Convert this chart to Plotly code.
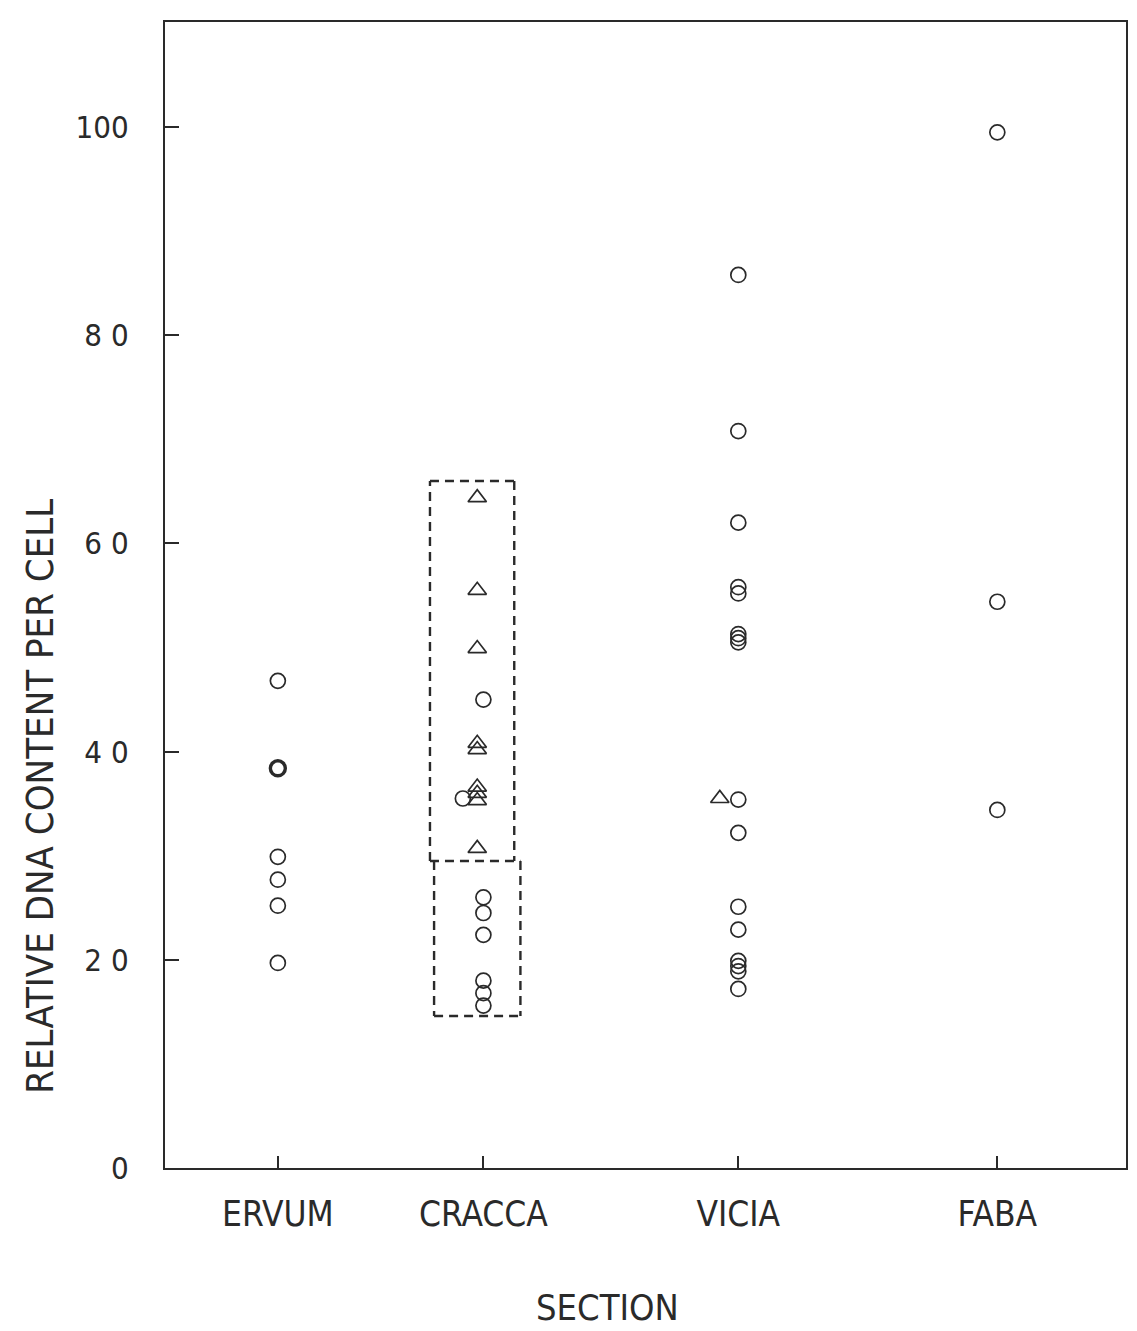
import plotly.graph_objects as go

# ---- data ----
sections = ["ERVUM", "CRACCA", "VICIA", "FABA"]
section_pos = [1.0, 2.0, 3.24, 4.5]

y_ticks = [0, 20, 40, 60, 80, 100]

ervum_circles = [46.8, 38.4, 29.9, 27.7, 25.2, 19.7]
ervum_bold = [False, True, False, False, False, False]

cracca_triangles = [64.4, 55.5, 49.9, 40.8, 40.2, 36.6, 36.0, 35.3, 30.7]
cracca_circles = [45.0, 26.0, 24.5, 22.4, 18.0, 16.8, 15.6]
cracca_side_circles = [35.5]          # circle drawn just left of the column

vicia_circles = [85.8, 70.8, 62.0, 55.8, 55.2, 51.3, 50.9, 50.5, 35.4,
                 32.2, 25.1, 22.9, 19.9, 19.4, 18.9, 17.2]
vicia_side_triangles = [35.5]         # triangle drawn just left of the column

faba_circles = [99.5, 54.4, 34.4]

# dashed boxes around the CRACCA groups (value limits)
cracca_upper_box = (29.5, 66.0)
cracca_lower_box = (14.6, 29.5)

INK = "#2a2a2a"
FONT = "DejaVu Sans Condensed"
side_shift = 0.09

fig = go.Figure()


def add_points(x, ys, symbol, widths=None, size=15):
    fig.add_trace(go.Scatter(
        x=[x] * len(ys), y=ys, mode="markers",
        marker=dict(symbol=symbol, size=size, color=INK,
                    line=dict(color=INK, width=widths if widths is not None else 1.7)),
        showlegend=False, hoverinfo="y"))


add_points(section_pos[0], ervum_circles, "circle-open",
           widths=[3.4 if b else 1.7 for b in ervum_bold])
add_points(section_pos[1] - 0.03, cracca_triangles, "triangle-up-open", size=16)
add_points(section_pos[1], cracca_circles, "circle-open")
add_points(section_pos[1] - side_shift - 0.01, cracca_side_circles, "circle-open")
add_points(section_pos[2], vicia_circles, "circle-open")
add_points(section_pos[2] - side_shift, vicia_side_triangles, "triangle-up-open", size=16)
add_points(section_pos[3], faba_circles, "circle-open")

# dashed boxes: upper box closed, lower box shares the upper box's bottom edge
box_line = dict(color=INK, width=2.4, dash="9px,6px")
ux0, ux1 = 1.74, 2.15
lx0, lx1 = 1.76, 2.18
fig.add_shape(type="line", xref="x", yref="y", x0=ux0, x1=ux0,
              y0=cracca_upper_box[0], y1=cracca_upper_box[1], line=box_line)
fig.add_shape(type="line", xref="x", yref="y", x0=ux0, x1=ux1,
              y0=cracca_upper_box[1], y1=cracca_upper_box[1], line=box_line)
fig.add_shape(type="line", xref="x", yref="y", x0=ux1, x1=ux1,
              y0=cracca_upper_box[1], y1=cracca_upper_box[0], line=box_line)
fig.add_shape(type="line", xref="x", yref="y", x0=ux0, x1=lx1,
              y0=cracca_upper_box[0], y1=cracca_upper_box[0], line=box_line)
fig.add_shape(type="line", xref="x", yref="y", x0=lx0, x1=lx0,
              y0=cracca_lower_box[1], y1=cracca_lower_box[0], line=box_line)
fig.add_shape(type="line", xref="x", yref="y", x0=lx0, x1=lx1,
              y0=cracca_lower_box[0], y1=cracca_lower_box[0], line=box_line)
fig.add_shape(type="line", xref="x", yref="y", x0=lx1, x1=lx1,
              y0=cracca_lower_box[1], y1=cracca_lower_box[0], line=box_line)

fig.update_layout(
    width=1137, height=1331,
    margin=dict(l=165, r=9, t=22, b=163),
    paper_bgcolor="white", plot_bgcolor="white",
    font=dict(family=FONT, color=INK),
)

fig.update_xaxes(
    range=[0.451, 5.126], tickmode="array", tickvals=section_pos, ticktext=sections,
    ticks="inside", ticklen=12, tickwidth=1.8, tickcolor=INK,
    showline=True, linecolor=INK, linewidth=2.2, mirror=True,
    showgrid=False, zeroline=False,
    tickfont=dict(family=FONT, size=35, color=INK), ticklabelstandoff=14,
)
fig.update_yaxes(
    range=[0, 110.1], tickmode="array", tickvals=y_ticks,
    ticktext=[" ".join(str(v)) if v < 100 else str(v) for v in y_ticks],
    ticks="inside", ticklen=14, tickwidth=1.8, tickcolor=INK,
    showline=True, linecolor=INK, linewidth=2.2, mirror=True,
    showgrid=False, zeroline=False,
    tickfont=dict(family=FONT, size=31, color=INK), ticklabelstandoff=28,
)

fig.add_annotation(text="RELATIVE DNA CONTENT PER CELL", xref="paper", yref="paper",
                   x=-0.13, y=0.324, xanchor="center", yanchor="middle", textangle=-90,
                   showarrow=False, font=dict(family=FONT, size=38, color=INK))
fig.add_annotation(text="SECTION", xref="paper", yref="paper",
                   x=0.46, y=-0.122, xanchor="center", yanchor="middle",
                   showarrow=False, font=dict(family=FONT, size=36, color=INK))

fig.write_html("out.html")
